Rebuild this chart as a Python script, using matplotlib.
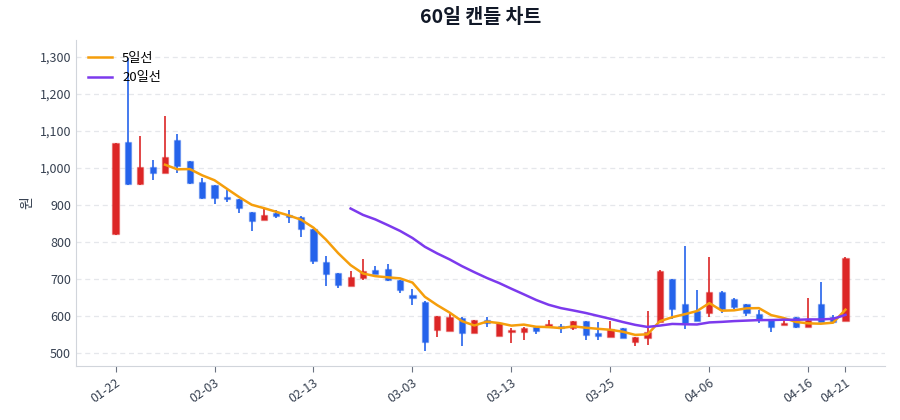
import matplotlib

matplotlib.use("Agg")
import matplotlib.pyplot as plt
import matplotlib.ticker as mticker
import numpy as np
import pandas as pd

plt.rcParams["font.family"] = ["Noto Sans CJK KR", "DejaVu Sans"]

# 60 trading days
opens = [822, 1070, 957, 1003, 986, 1076, 1019, 962, 954, 920,
         916, 881, 859, 877, 873, 868, 835, 746, 716, 681,
         703, 724, 727, 697, 657, 638, 562, 559, 595, 554,
         589, 546, 557, 557, 570, 570, 572, 568, 586, 554,
         543, 566, 530, 541, 584, 700, 632, 614, 608, 665,
         646, 632, 605, 589, 576, 597, 570, 632, 597, 586]
highs = [1068, 1298, 1087, 1022, 1140, 1092, 1020, 972, 955, 940,
         917, 882, 889, 886, 886, 871, 836, 762, 717, 722,
         754, 735, 740, 698, 673, 639, 601, 605, 596, 590,
         597, 584, 568, 569, 573, 589, 577, 587, 587, 584,
         587, 568, 544, 614, 723, 701, 789, 670, 759, 666,
         647, 633, 616, 590, 589, 598, 649, 692, 603, 758]
lows = [818, 955, 955, 968, 985, 987, 957, 916, 903, 908,
        878, 830, 858, 865, 851, 813, 740, 681, 675, 680,
        697, 712, 694, 662, 630, 505, 543, 558, 519, 553,
        570, 545, 527, 535, 551, 568, 554, 562, 535, 535,
        542, 540, 519, 522, 583, 592, 565, 585, 597, 608,
        619, 600, 581, 557, 575, 567, 569, 583, 580, 585]
closes = [1067, 957, 1003, 986, 1030, 1005, 960, 919, 919, 915,
          892, 857, 873, 869, 866, 835, 749, 713, 684, 705,
          722, 713, 697, 670, 648, 530, 600, 597, 554, 589,
          582, 581, 562, 568, 560, 578, 567, 586, 549, 545,
          565, 541, 543, 557, 722, 619, 581, 586, 665, 619,
          624, 608, 589, 570, 581, 570, 589, 584, 584, 757]

tick_positions = [0, 8, 16, 24, 32, 40, 48, 56, 59]
tick_labels = ["01-22", "02-03", "02-13", "03-03", "03-13",
               "03-25", "04-06", "04-16", "04-21"]

UP_COLOR = "#dc2626"
DOWN_COLOR = "#2563eb"
MA5_COLOR = "#f59e0b"
MA20_COLOR = "#7c3aed"

frame = pd.DataFrame({"open": opens, "high": highs, "low": lows, "close": closes})
frame["ma5"] = frame["close"].rolling(5).mean()
frame["ma20"] = frame["close"].rolling(20).mean()
x = np.arange(len(frame))

fig = plt.figure(figsize=(9, 4.2), dpi=100)
ax = fig.add_axes([0.0844, 0.129, 0.899, 0.776])

body_width = 0.5
for i, row in frame.iterrows():
    color = UP_COLOR if row["close"] >= row["open"] else DOWN_COLOR
    ax.vlines(i, row["low"], row["high"], color=color, linewidth=1.2, zorder=2)
    bottom = min(row["open"], row["close"])
    height = max(abs(row["close"] - row["open"]), 2)
    ax.bar(i, height, bottom=bottom, width=body_width, color=color,
           edgecolor=matplotlib.colors.to_rgba(color, 0.35), linewidth=1.0, zorder=3)

ax.plot(x, frame["ma5"], color=MA5_COLOR, linewidth=1.8, label="5일선", zorder=4)
ax.plot(x, frame["ma20"], color=MA20_COLOR, linewidth=1.8, label="20일선", zorder=4)

ax.set_xlim(-3.2, 62.2)
ax.set_ylim(465, 1346)
ax.set_xticks(tick_positions)
ax.set_xticklabels(tick_labels, rotation=35, ha="right", rotation_mode="anchor",
                   fontsize=9, color="#374151")
ax.yaxis.set_major_locator(mticker.MultipleLocator(100))
ax.yaxis.set_major_formatter(mticker.StrMethodFormatter("{x:,.0f}"))
ax.tick_params(axis="y", labelsize=9, colors="#374151", length=0)
ax.tick_params(axis="x", colors="#6b7280", length=4, labelcolor="#374151")
ax.grid(axis="y", linestyle=(0, (4, 3)), color="#e5e7eb", linewidth=0.9)
ax.set_axisbelow(True)
for side in ("top", "right"):
    ax.spines[side].set_visible(False)
for side in ("left", "bottom"):
    ax.spines[side].set_color("#d1d5db")
ax.set_ylabel("원", fontsize=10, color="#374151")
ax.set_title("60일 캔들 차트", fontsize=14, fontweight="bold", color="#111827", pad=12)
ax.legend(loc="upper left", frameon=False, fontsize=9.5, handlelength=1.8,
          borderaxespad=0.5)

fig.savefig("out.png", dpi=100)
